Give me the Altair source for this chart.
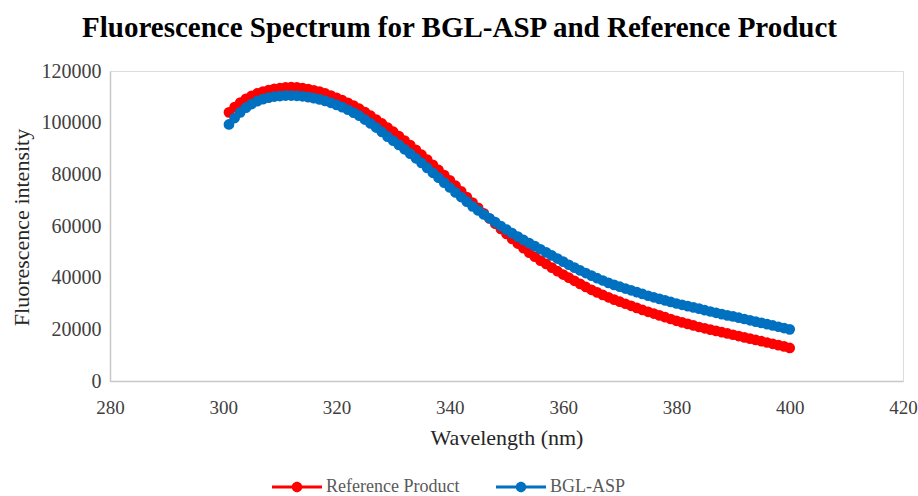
import altair as alt
import pandas as pd

wavelength = list(range(301, 401))

reference_product = [
    104000, 106000, 107800, 109200, 110400, 111300, 112000, 112600, 113100, 113400,
    113700, 113800, 113700, 113400, 113000, 112500, 112000, 111300, 110500, 109600,
    108700, 107700, 106600, 105400, 104100, 102700, 101200, 99700, 98100, 96500,
    94800, 93100, 91300, 89500, 87600, 85700, 83700, 81700, 79700, 77700,
    75600, 73400, 71200, 69100, 67000, 64900, 62900, 60900, 58900, 56900,
    55000, 53200, 51400, 49700, 48100, 46600, 45300, 43900, 42500, 41200,
    40000, 38800, 37600, 36400, 35300, 34300, 33300, 32400, 31500, 30700,
    29900, 29100, 28300, 27500, 26800, 26100, 25400, 24700, 24000, 23300,
    22700, 22100, 21500, 20900, 20400, 19900, 19400, 18900, 18400, 17900,
    17400, 16900, 16400, 15900, 15400, 14900, 14400, 13900, 13400, 12800,
]

bgl_asp = [
    99300, 101800, 104000, 105800, 107200, 108300, 109100, 109700, 110100, 110300,
    110500, 110500, 110400, 110200, 109900, 109500, 109000, 108400, 107700, 106900,
    106000, 105000, 103900, 102700, 101200, 99700, 98100, 96400, 94600, 93000,
    91400, 89700, 88000, 86200, 84400, 82500, 80600, 78700, 76800, 74900,
    73000, 71200, 69400, 67600, 66000, 64500, 63000, 61500, 60000, 58600,
    57200, 55900, 54600, 53400, 52200, 51000, 49800, 48600, 47400, 46200,
    45000, 43900, 42800, 41800, 40800, 39800, 38900, 38000, 37200, 36500,
    35800, 35100, 34400, 33700, 33000, 32400, 31800, 31200, 30600, 30000,
    29500, 29000, 28500, 28000, 27400, 26900, 26400, 25900, 25400, 25000,
    24500, 24000, 23500, 23000, 22500, 22000, 21500, 21000, 20500, 20000,
]

series_names = ["Reference Product", "BGL-ASP"]
series_colors = ["#FF0000", "#0070C0"]
x_ticks = [280, 300, 320, 340, 360, 380, 400, 420]
y_ticks = [0, 20000, 40000, 60000, 80000, 100000, 120000]

df = pd.DataFrame({
    "Wavelength": wavelength + wavelength,
    "Intensity": reference_product + bgl_asp,
    "Series": [series_names[0]] * len(wavelength) + [series_names[1]] * len(wavelength),
})

FONT = "Liberation Serif"
legend_path = ("M-1,-0.06H1V0.06H-1Z"
               "M-0.21,0A0.21,0.21,0,1,1,0.21,0A0.21,0.21,0,1,1,-0.21,0Z")

base = alt.Chart(df).mark_point(filled=True, size=115, opacity=1).encode(
    x=alt.X("Wavelength:Q",
            scale=alt.Scale(domain=[280, 420], nice=False, zero=False),
            axis=alt.Axis(values=x_ticks, title="Wavelength (nm)", grid=False, ticks=False,
                          domainColor="#C8C8C8", domainWidth=1.5, labelFlush=False,
                          labelFont=FONT, labelFontSize=19, labelColor="#404040",
                          labelPadding=17,
                          titleFont=FONT, titleFontSize=22, titleFontWeight="normal",
                          titleColor="#262626", titleY=56, titleBaseline="middle")),
    y=alt.Y("Intensity:Q",
            scale=alt.Scale(domain=[0, 120000], nice=False),
            axis=alt.Axis(values=y_ticks, format="d", title="Fluorescence intensity",
                          grid=False, ticks=False, labelFlush=False,
                          domainColor="#C8C8C8", domainWidth=1.5,
                          labelFont=FONT, labelFontSize=20, labelColor="#404040",
                          labelPadding=9,
                          titleFont=FONT, titleFontSize=22, titleFontWeight="normal",
                          titleColor="#262626", titleX=-89, titleY=156,
                          titleAngle=-90, titleBaseline="middle", titleAlign="center")),
    color=alt.Color("Series:N",
                    scale=alt.Scale(domain=series_names, range=series_colors),
                    legend=alt.Legend(title=None, orient="none", direction="horizontal",
                                      legendX=162, legendY=391,
                                      symbolType=legend_path, symbolSize=2500,
                                      symbolStrokeWidth=0, symbolOpacity=1,
                                      labelFont=FONT, labelFontSize=18,
                                      labelColor="#595959", labelOffset=4,
                                      columnPadding=36)),
)

red = base.transform_filter(alt.datum.Series == series_names[0])
blue = base.transform_filter(alt.datum.Series == series_names[1])

chart = alt.layer(red, blue).properties(
    width=793,
    height=310,
    title=alt.TitleParams("Fluorescence Spectrum for BGL-ASP and Reference Product",
                          font=FONT, fontSize=29, fontWeight="bold", color="#000000",
                          anchor="middle", dx=-47, offset=18),
    autosize=alt.AutoSizeParams(type="none"),
    padding={"left": 110, "top": 71, "right": 15, "bottom": 115},
).configure_view(stroke=None).configure(
    background="#FFFFFF", font=FONT
).configure_legend(labelFont=FONT).configure_axis(labelFont=FONT, titleFont=FONT)

chart.save("out.html", embed_options={"renderer": "svg", "actions": False})
